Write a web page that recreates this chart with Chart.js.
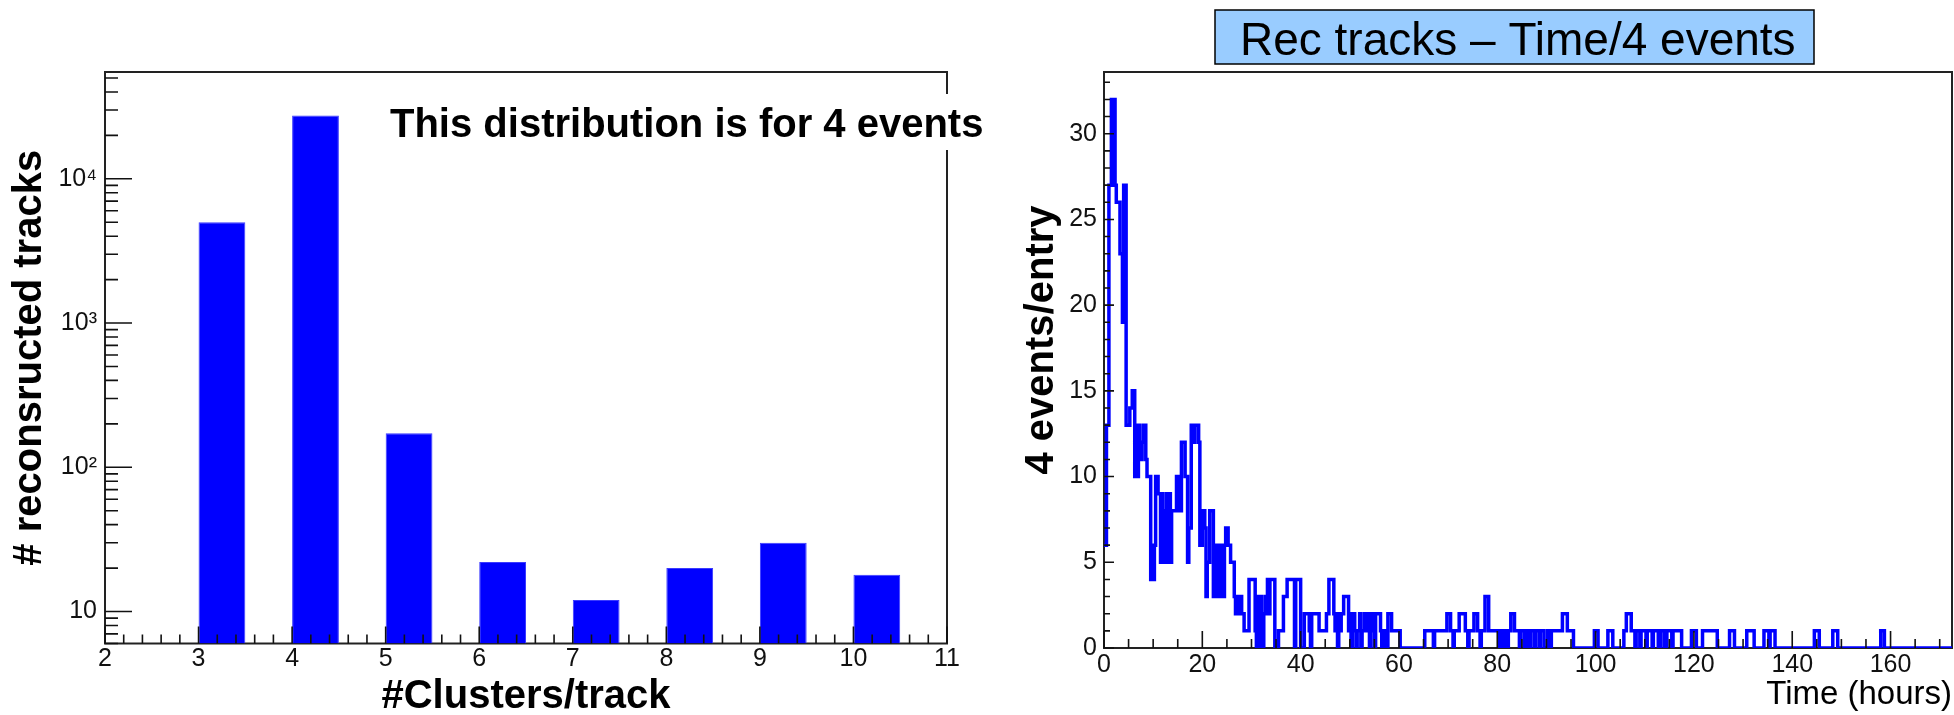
<!DOCTYPE html>
<html>
<head>
<meta charset="utf-8">
<title>Rec tracks</title>
<script src="https://cdn.jsdelivr.net/npm/chart.js@4.4.1/dist/chart.umd.min.js"></script>
<style>
html, body { margin: 0; padding: 0; background: #fff; }
body { width: 1954px; height: 715px; position: relative; overflow: hidden; }
canvas { position: absolute; top: 0; }
#clusters { left: 0; }
#timeplot { left: 990px; }
</style>
</head>
<body>
<canvas id="clusters" width="990" height="715"></canvas>
<canvas id="timeplot" width="964" height="715"></canvas>
<script>
// ---- left plot: clusters per track ----
var clusterBins = [3, 4, 5, 6, 7, 8, 9, 10];
var trackCounts = [5000, 27500, 172, 22, 12, 20, 30, 18];
var clusterBinWidth = 0.5;
var decadeValues = [10, 100, 1000, 10000];
var decadeLabels = ['10', '10\u00b2', '10\u00b3', '10\u2074'];

// ---- right plot: tracks per 4 events vs time (step histogram) ----
var stepStartHours = [
  0, 0.5, 1, 1.5, 1.75, 2, 2.25, 2.5, 3.25, 3.75,
  4, 4.5, 5.25, 5.75, 6.25, 6.5, 6.75, 7, 7.25, 7.75,
  8, 8.5, 8.75, 9.5, 9.75, 10, 10.25, 10.5, 11, 11.5,
  11.75, 12, 12.25, 12.5, 12.75, 13, 13.25, 13.5, 13.75, 14.75,
  15, 15.25, 15.5, 15.75, 16.5, 17, 17.25, 17.75, 18.25, 18.5,
  19.25, 19.5, 20, 20.5, 20.75, 21, 21.5, 22.25, 22.5, 22.75,
  23, 23.25, 23.5, 23.75, 24, 24.25, 24.5, 24.75, 25.25, 25.75,
  26.5, 26.75, 27, 27.25, 27.75, 28, 28.5, 29.5, 30.75, 31,
  31.25, 31.5, 31.75, 32, 32.25, 32.5, 32.75, 33, 33.25, 33.5,
  33.75, 34.75, 35.5, 36.5, 37.25, 38.75, 39, 40, 40.75, 41.75,
  42, 42.25, 43.75, 45.25, 45.75, 46.75, 47, 47.25, 47.5, 47.75,
  48, 48.25, 48.75, 49.75, 50, 50.25, 50.5, 51, 51.25, 51.5,
  52, 52.25, 52.5, 53, 53.5, 53.75, 54, 54.25, 54.5, 54.75,
  55, 55.25, 56.25, 56.5, 57, 57.5, 57.75, 58.5, 60.25, 65.25,
  67, 67.25, 69.75, 70.5, 71, 71.25, 72.25, 73.5, 74, 74.25,
  75.25, 76, 76.5, 76.75, 77.5, 78.25, 80.5, 80.75, 81.25, 81.5,
  82, 82.25, 82.75, 83.5, 84.5, 84.75, 85.5, 86, 86.5, 86.75,
  87.5, 87.75, 88.5, 88.75, 89.5, 90.25, 90.5, 91, 93.25, 94.25,
  95.5, 99.75, 100.5, 102.5, 103.5, 105.75, 106.25, 107.25, 108, 108.25,
  109, 109.25, 110.25, 110.5, 111.5, 111.75, 112.75, 113.25, 114, 114.5,
  115.5, 115.75, 117.5, 119.5, 120.5, 121.75, 124.75, 127.25, 128.25, 130.75,
  132.25, 134.25, 135.25, 135.5, 136.5, 144.5, 145.5, 148.25, 149.25, 158,
  158.75
];
var stepEntries = [
  6, 13, 27, 32, 27, 32, 27, 26, 23, 19,
  27, 13, 14, 15, 10, 13, 10, 13, 11, 12,
  13, 11, 10, 4, 6, 4, 6, 10, 9, 5,
  9, 5, 8, 5, 9, 5, 9, 5, 8, 10,
  8, 10, 8, 12, 10, 5, 7, 13, 12, 13,
  12, 6, 8, 7, 3, 5, 8, 3, 6, 3,
  6, 3, 6, 3, 6, 3, 6, 7, 6, 5,
  3, 2, 3, 2, 3, 2, 1, 4, 1, 0,
  3, 0, 3, 2, 0, 2, 3, 2, 4, 2,
  4, 0, 1, 3, 4, 0, 4, 0, 2, 1,
  0, 2, 1, 2, 4, 2, 1, 2, 0, 2,
  1, 2, 3, 1, 2, 0, 2, 1, 0, 1,
  2, 0, 1, 2, 1, 2, 0, 2, 1, 2,
  0, 2, 1, 0, 1, 0, 2, 1, 0, 1,
  0, 1, 2, 1, 0, 1, 2, 1, 0, 1,
  2, 1, 0, 1, 3, 1, 0, 1, 0, 1,
  0, 1, 2, 1, 0, 1, 0, 1, 0, 1,
  0, 1, 0, 1, 0, 1, 0, 1, 2, 1,
  0, 1, 0, 1, 0, 1, 2, 1, 0, 1,
  0, 1, 0, 1, 0, 1, 0, 1, 0, 1,
  0, 1, 0, 1, 0, 1, 0, 1, 0, 1,
  0, 1, 0, 1, 0, 1, 0, 1, 0, 1,
  0
];
var lastHour = 172.5;

var FONT = "'Liberation Sans', Arial, Helvetica, sans-serif";
Chart.defaults.font.family = FONT;
Chart.defaults.color = '#000';

// ROOT-like frame with ticks drawn inside the frame
var rootAxes = {
  id: 'rootAxes',
  beforeDatasetsDraw: function(chart, args, o) {
    let a = chart.chartArea, ctx = chart.ctx;
    ctx.save();
    ctx.strokeStyle = '#222';
    ctx.lineWidth = 2;
    ctx.strokeRect(a.left, a.top, a.right - a.left, a.bottom - a.top);
    ctx.restore();
  },
  afterDatasetsDraw: function(chart, args, o) {
    let a = chart.chartArea, ctx = chart.ctx;
    let x = chart.scales.x, y = chart.scales.y;
    ctx.save();
    ctx.strokeStyle = '#111';
    ctx.lineWidth = 1.6;
    ctx.beginPath();
    let n0 = Math.ceil(x.min / o.xMinor - 1e-9), n1 = Math.floor(x.max / o.xMinor + 1e-9);
    for (let n = n0; n <= n1; n++) {
      let px = x.getPixelForValue(n * o.xMinor);
      let len = (n % o.xEvery === 0) ? o.xMajorLen : o.xMinorLen;
      ctx.moveTo(px, a.bottom);
      ctx.lineTo(px, a.bottom - len);
    }
    if (o.yLog) {
      for (let d = Math.floor(Math.log10(y.min)); d <= Math.ceil(Math.log10(y.max)); d++) {
        for (let k = 1; k < 10; k++) {
          let v = k * Math.pow(10, d);
          if (v < y.min || v > y.max) continue;
          let py = y.getPixelForValue(v);
          ctx.moveTo(a.left, py);
          ctx.lineTo(a.left + (k === 1 ? o.yMajorLen : o.yMinorLen), py);
        }
      }
    } else {
      let m0 = Math.ceil(y.min / o.yMinor - 1e-9), m1 = Math.floor(y.max / o.yMinor + 1e-9);
      for (let m = m0; m <= m1; m++) {
        let py = y.getPixelForValue(m * o.yMinor);
        ctx.moveTo(a.left, py);
        ctx.lineTo(a.left + ((m % o.yEvery === 0) ? o.yMajorLen : o.yMinorLen), py);
      }
    }
    ctx.stroke();
    ctx.restore();
  }
};

// text label with a white (left) or coloured box (right), optional rotated side title
var textBox = {
  id: 'textBox',
  afterDraw: function(chart, args, o) {
    let ctx = chart.ctx;
    ctx.save();
    ctx.font = o.font;
    let w = ctx.measureText(o.text).width;
    let bx = o.boxX !== undefined ? o.boxX : o.x - 6;
    let bw = o.boxW !== undefined ? o.boxW : w + 12;
    ctx.fillStyle = o.background;
    ctx.fillRect(bx, o.boxY, bw, o.boxH);
    if (o.border) {
      ctx.strokeStyle = o.border;
      ctx.lineWidth = 1.5;
      ctx.strokeRect(bx, o.boxY, bw, o.boxH);
    }
    ctx.fillStyle = '#000';
    ctx.textBaseline = 'alphabetic';
    ctx.textAlign = 'left';
    ctx.fillText(o.text, o.x, o.y);
    if (o.side) {
      ctx.font = o.side.font;
      ctx.translate(o.side.x, o.side.y);
      ctx.rotate(-Math.PI / 2);
      ctx.textAlign = 'center';
      ctx.textBaseline = 'middle';
      ctx.fillText(o.side.text, 0, 0);
    }
    ctx.restore();
  }
};

// ---- left chart ----
let clusterData = clusterBins.map(function(c, i){
  return {x: c + clusterBinWidth / 2, y: trackCounts[i]};
});

new Chart(document.getElementById('clusters'), {
  type: 'bar',
  data: {
    datasets: [{
      data: clusterData,
      backgroundColor: '#0000ff',
      borderColor: '#3a3aff',
      borderWidth: 1,
      barPercentage: clusterBinWidth,
      categoryPercentage: 1.0
    }]
  },
  options: {
    responsive: false,
    animation: false,
    devicePixelRatio: 1,
    layout: { padding: { top: 72, right: 43, left: 0, bottom: 0 } },
    plugins: {
      legend: { display: false },
      tooltip: { enabled: false },
      rootAxes: { xMinor: 0.2, xEvery: 5, xMajorLen: 17, xMinorLen: 9, yLog: true, yMajorLen: 27, yMinorLen: 13 },
      textBox: {
        text: 'This distribution is for 4 events',
        font: "bold 40px " + FONT,
        x: 390, y: 137, boxY: 94, boxH: 56, boxX: 384, boxW: 606,
        background: '#ffffff'
      }
    },
    scales: {
      x: {
        type: 'linear', min: 2, max: 11, offset: false,
        afterFit: function(s){ s.height = 71.5; },
        grid: { display: false, drawTicks: false },
        border: { display: false },
        ticks: { stepSize: 1, autoSkip: false, maxRotation: 0, padding: 1, font: { size: 25 }, color: '#111' },
        title: {
          display: true, text: '#Clusters/track', color: '#000',
          font: { size: 40, weight: 'bold', lineHeight: 0.9 }, padding: { top: 0, bottom: 0 }
        }
      },
      y: {
        type: 'logarithmic', min: 6, max: 55000,
        afterFit: function(s){ s.width = 105; },
        grid: { display: false, drawTicks: false },
        border: { display: false },
        ticks: {
          autoSkip: false, padding: 8, font: { size: 25 }, color: '#111',
          callback: function(v){
            let i = decadeValues.indexOf(Math.round(v));
            return i >= 0 && Math.abs(v - decadeValues[i]) < 1e-6 ? decadeLabels[i] : '';
          }
        },
        title: {
          display: true, text: '# reconsructed tracks', color: '#000',
          font: { size: 40, weight: 'bold' }, padding: { top: 6, bottom: 0 }
        }
      }
    }
  },
  plugins: [rootAxes, textBox]
});

// ---- right chart ----
let timePoints = stepStartHours.map(function(h, i){ return {x: h, y: stepEntries[i]}; });
timePoints.push({x: lastHour, y: 0});

new Chart(document.getElementById('timeplot'), {
  type: 'line',
  data: {
    datasets: [{
      data: timePoints,
      stepped: true,
      borderColor: '#0000ff',
      borderWidth: 3.5,
      borderJoinStyle: 'miter',
      pointRadius: 0,
      fill: false
    }]
  },
  options: {
    responsive: false,
    animation: false,
    devicePixelRatio: 1,
    layout: { padding: { top: 72, right: 2, left: 0, bottom: 0 } },
    plugins: {
      legend: { display: false },
      tooltip: { enabled: false },
      rootAxes: { xMinor: 5, xEvery: 4, xMajorLen: 17, xMinorLen: 9, yMinor: 1, yEvery: 5, yMajorLen: 10, yMinorLen: 6 },
      textBox: {
        text: 'Rec tracks \u2013 Time/4 events',
        font: "46px " + FONT,
        x: 250, y: 55, boxX: 225, boxW: 599, boxY: 10, boxH: 54,
        background: '#99ccff', border: '#000',
        side: { text: '4 events/entry', font: "bold 40px " + FONT, x: 52, y: 340 }
      }
    },
    scales: {
      x: {
        type: 'linear', min: 0, max: lastHour,
        afterFit: function(s){ s.height = 67; },
        grid: { display: false, drawTicks: false },
        border: { display: false },
        ticks: { stepSize: 20, includeBounds: false, autoSkip: false, maxRotation: 0, padding: 2, font: { size: 25 }, color: '#111' },
        title: {
          display: true, text: 'Time (hours)', align: 'end', color: '#000',
          font: { size: 33 }, padding: { top: 0, bottom: 0 }
        }
      },
      y: {
        type: 'linear', min: 0, max: 33.6,
        afterFit: function(s){ s.width = 114; },
        grid: { display: false, drawTicks: false },
        border: { display: false },
        ticks: { stepSize: 5, includeBounds: false, autoSkip: false, padding: 7, font: { size: 25 }, color: '#111' },
        title: { display: false }
      }
    }
  },
  plugins: [rootAxes, textBox]
});
</script>
</body>
</html>
